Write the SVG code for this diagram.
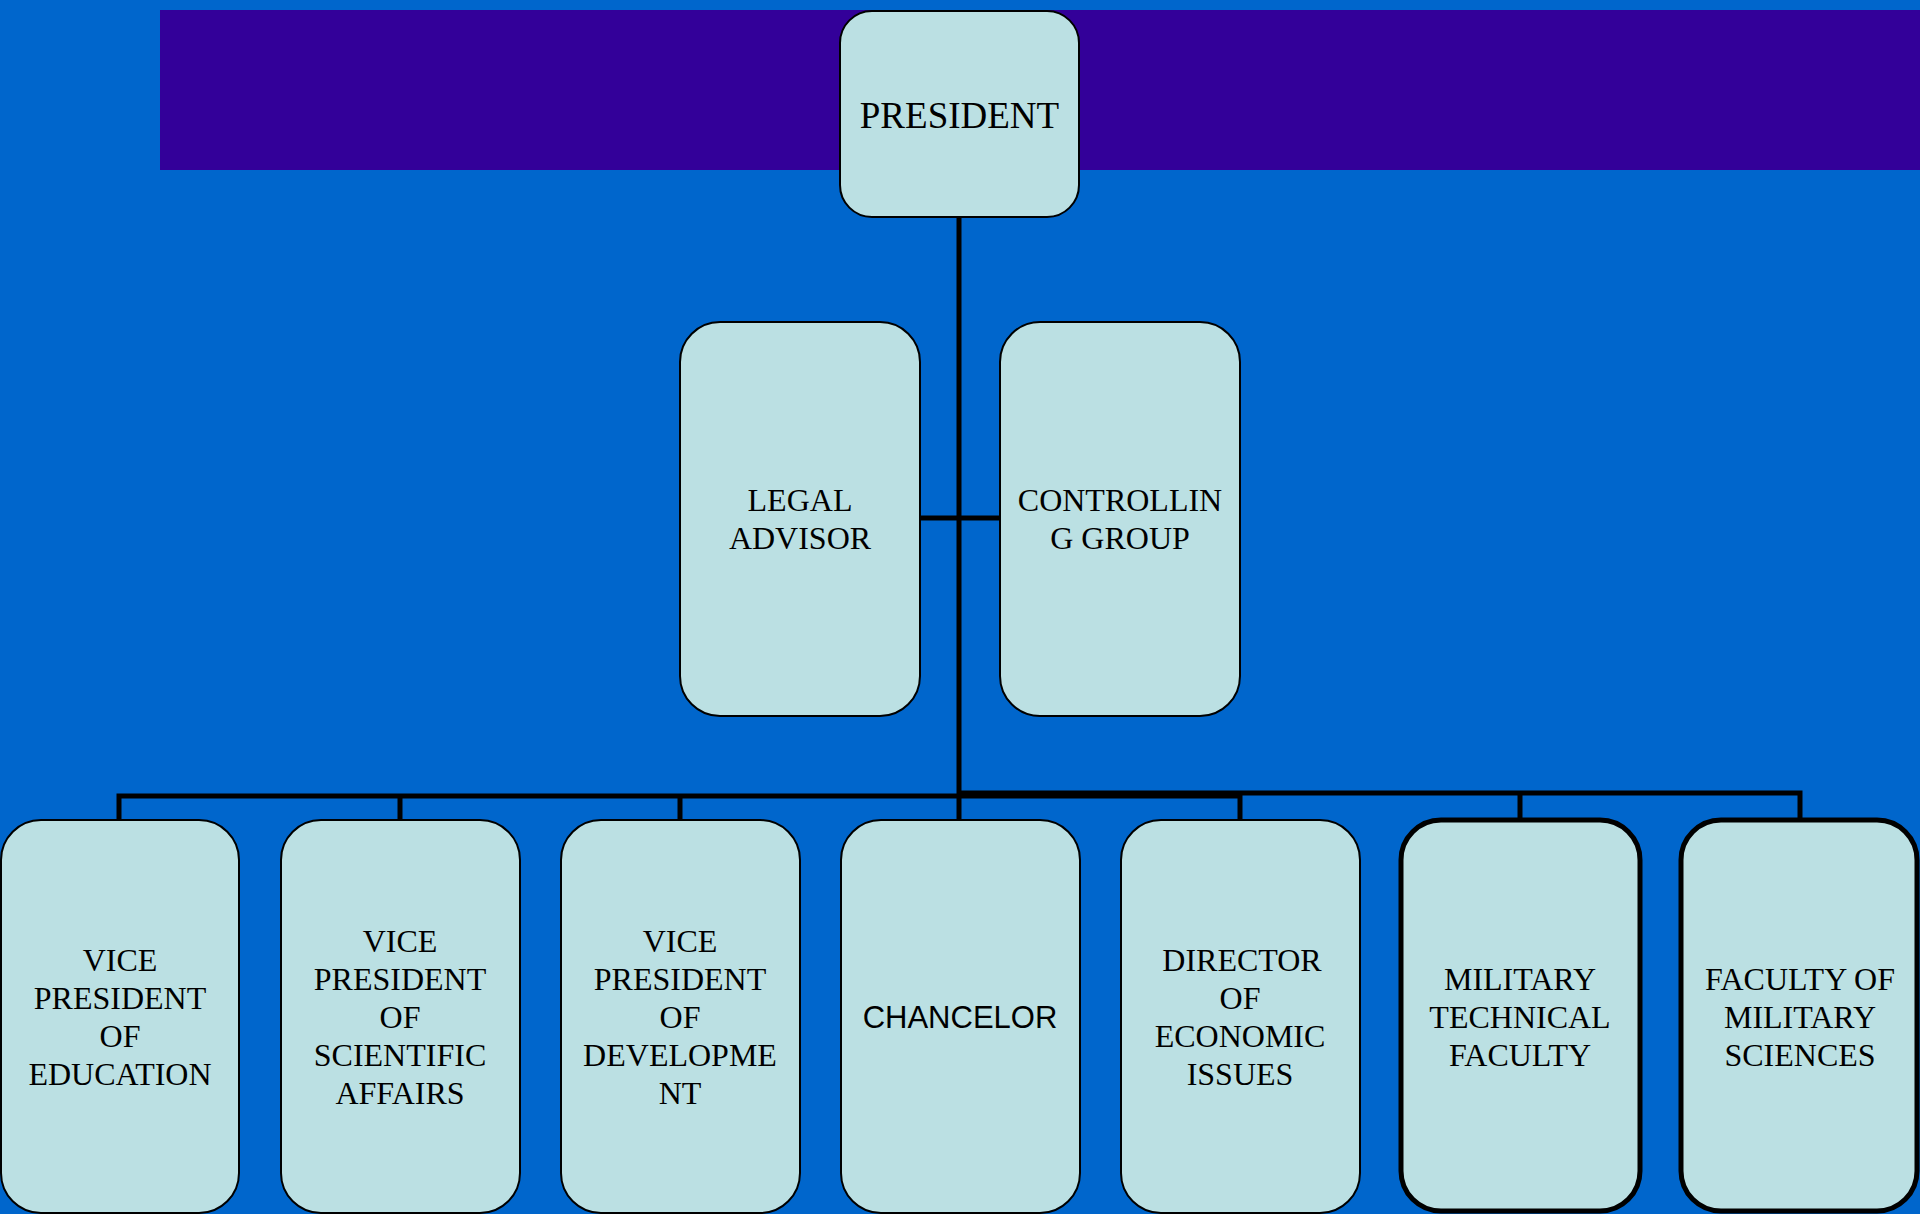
<svg xmlns="http://www.w3.org/2000/svg" width="1920" height="1214" viewBox="0 0 1920 1214">
<style>
.box{fill:#BBE0E3;stroke:#000;stroke-width:2}
.thick{stroke-width:5}
.t{font-family:"Liberation Serif","Times New Roman",serif;font-size:32px;fill:#000;text-anchor:middle}
.s{font-family:"Liberation Sans",Arial,sans-serif;font-size:31px;fill:#000;text-anchor:middle}
.c{fill:none;stroke:#000;stroke-width:5}
</style>
<rect x="0" y="0" width="1920" height="1214" fill="#0066CC"/>
<rect x="160" y="10" width="1760" height="160" fill="#330099"/>
<g id="connectors">
<line class="c" x1="959" y1="218" x2="959" y2="820"/>
<line class="c" x1="920" y1="518" x2="1000" y2="518"/>
<polyline class="c" points="119,820 119,796 1240,796 1240,820"/>
<line class="c" x1="400" y1="796" x2="400" y2="820"/>
<line class="c" x1="680" y1="796" x2="680" y2="820"/>
<polyline class="c" points="959,793 1800,793 1800,818"/>
<line class="c" x1="1520" y1="793" x2="1520" y2="818"/>
</g>
<g id="president">
<rect class="box" x="840" y="11" width="239" height="206" rx="32"/>
<text class="t" x="959.5" y="128" style="font-size:37px">PRESIDENT</text>
</g>
<g id="legal-advisor">
<rect class="box" x="680" y="322" width="240" height="394" rx="40"/>
<text class="t" x="800" y="511">LEGAL</text>
<text class="t" x="800" y="549">ADVISOR</text>
</g>
<g id="controlling-group">
<rect class="box" x="1000" y="322" width="240" height="394" rx="40"/>
<text class="t" x="1120" y="511">CONTROLLIN</text>
<text class="t" x="1120" y="549">G GROUP</text>
</g>
<g id="vp-education">
<rect class="box" x="1" y="820" width="238" height="393" rx="40"/>
<text class="t" x="120" y="971">VICE</text>
<text class="t" x="120" y="1009">PRESIDENT</text>
<text class="t" x="120" y="1047">OF</text>
<text class="t" x="120" y="1085">EDUCATION</text>
</g>
<g id="vp-scientific">
<rect class="box" x="281" y="820" width="239" height="393" rx="40"/>
<text class="t" x="400" y="952">VICE</text>
<text class="t" x="400" y="990">PRESIDENT</text>
<text class="t" x="400" y="1028">OF</text>
<text class="t" x="400" y="1066">SCIENTIFIC</text>
<text class="t" x="400" y="1104">AFFAIRS</text>
</g>
<g id="vp-development">
<rect class="box" x="561" y="820" width="239" height="393" rx="40"/>
<text class="t" x="680" y="952">VICE</text>
<text class="t" x="680" y="990">PRESIDENT</text>
<text class="t" x="680" y="1028">OF</text>
<text class="t" x="680" y="1066">DEVELOPME</text>
<text class="t" x="680" y="1104">NT</text>
</g>
<g id="chancelor">
<rect class="box" x="841" y="820" width="239" height="393" rx="40"/>
<text class="s" x="960" y="1028">CHANCELOR</text>
</g>
<g id="director-economic">
<rect class="box" x="1121" y="820" width="239" height="393" rx="40"/>
<text class="t" x="1242" y="971">DIRECTOR</text>
<text class="t" x="1240" y="1009">OF</text>
<text class="t" x="1240" y="1047">ECONOMIC</text>
<text class="t" x="1240" y="1085">ISSUES</text>
</g>
<g id="military-technical-faculty">
<rect class="box thick" x="1401" y="820" width="239" height="391" rx="40"/>
<text class="t" x="1520" y="990">MILITARY</text>
<text class="t" x="1520" y="1028">TECHNICAL</text>
<text class="t" x="1520" y="1066">FACULTY</text>
</g>
<g id="faculty-military-sciences">
<rect class="box thick" x="1681" y="820" width="236" height="391" rx="40"/>
<text class="t" x="1800" y="990">FACULTY OF</text>
<text class="t" x="1800" y="1028">MILITARY</text>
<text class="t" x="1800" y="1066">SCIENCES</text>
</g>
</svg>
